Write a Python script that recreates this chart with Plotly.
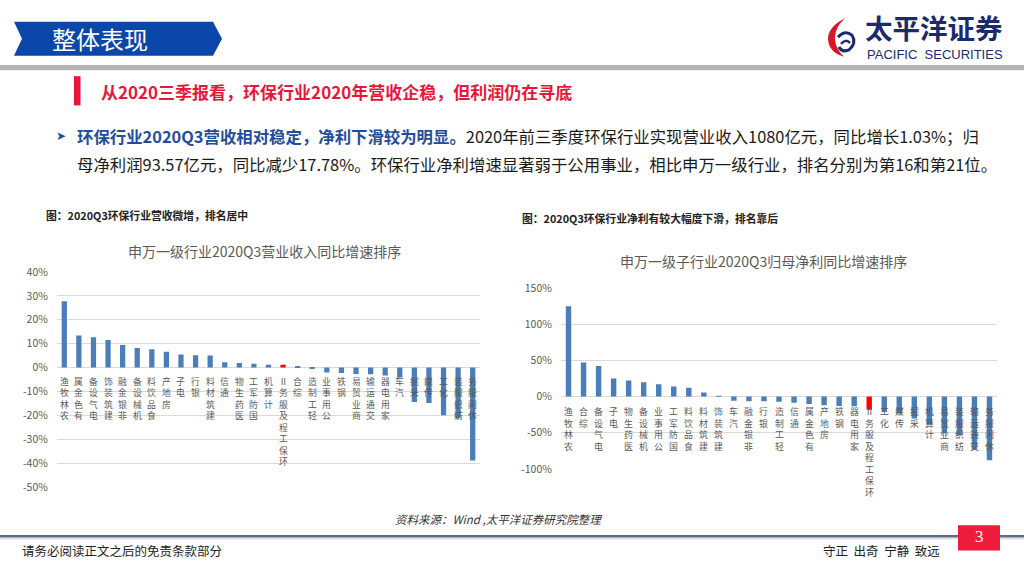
import plotly.graph_objects as go

# ---------------- data ----------------
rev_categories = ["农林牧渔", "有色金属", "电气设备", "建筑装饰", "非银金融", "机械设备", "食品饮料",
                  "房地产", "电子", "银行", "建筑材料", "通信", "医药生物", "国防军工", "计算机",
                  "环保工程及服务Ⅱ", "综合", "轻工制造", "公用事业", "钢铁", "商业贸易", "交通运输",
                  "家用电器", "汽车", "采掘", "传媒", "化工", "纺织服装", "休闲服务"]
rev_values = [27.7, 13.4, 12.7, 11.5, 9.5, 8.2, 7.7, 6.6, 5.5, 5.2, 5.1, 2.2, 1.9, 1.6, 1.2,
              1.2, 0.5, -0.3, -2.0, -2.3, -2.7, -2.8, -3.3, -4.1, -14.4, -14.8, -19.9, -21.2, -38.8]

np_categories = ["农林牧渔", "综合", "电气设备", "电子", "医药生物", "机械设备", "公用事业",
                 "国防军工", "食品饮料", "建筑材料", "建筑装饰", "汽车", "非银金融", "银行", "轻工制造",
                 "通信", "有色金属", "房地产", "钢铁", "家用电器", "环保工程及服务Ⅱ", "化工", "传媒",
                 "采掘", "计算机", "商业贸易", "纺织服装", "交通运输", "休闲服务"]
np_values = [124.7, 47.0, 42.2, 24.7, 22.0, 19.7, 17.0, 13.9, 12.1, 5.4, 0.3, -5.8, -6.4, -6.7,
             -7.2, -8.5, -10.3, -12.1, -13.0, -13.5, -18.4, -21.5, -23.3, -30.5, -38.6, -50.7,
             -53.8, -73.5, -87.9]

rev_ticks = [40, 30, 20, 10, 0, -10, -20, -30, -40, -50]
np_ticks = [150, 100, 50, 0, -50, -100]

highlight = "环保工程及服务Ⅱ"

# ---------------- style ----------------
W, H = 1024, 576
FONT = "Noto Sans CJK SC"
BAR = "#4A7EBB"
RED = "#FF0000"
GRID = "#D9D9D9"
AXTXT = "#595959"


def px(x):
    return x / W


def py(y):
    return 1 - y / H


fig = go.Figure()

fig.add_trace(go.Bar(
    x=rev_categories, y=rev_values, xaxis="x", yaxis="y", width=0.36,
    marker=dict(color=[RED if c == highlight else BAR for c in rev_categories], line=dict(width=0)),
    showlegend=False, hoverinfo="skip"))
fig.add_trace(go.Bar(
    x=np_categories, y=np_values, xaxis="x2", yaxis="y2", width=0.36,
    marker=dict(color=[RED if c == highlight else BAR for c in np_categories], line=dict(width=0)),
    showlegend=False, hoverinfo="skip"))

axis_common_x = dict(type="category", showticklabels=False, showgrid=False, zeroline=False,
                     showline=False, fixedrange=True)
axis_common_y = dict(showgrid=True, gridcolor=GRID, gridwidth=1, zeroline=False, showline=False,
                     tickfont=dict(family=FONT, size=10.5, color=AXTXT), tickmode="array",
                     ticks="outside", ticklen=6, tickcolor="rgba(0,0,0,0)", fixedrange=True)

fig.update_layout(
    width=W, height=H, margin=dict(l=0, r=0, t=0, b=0),
    paper_bgcolor="white", plot_bgcolor="white", bargap=0.6,
    font=dict(family=FONT),
    xaxis=dict(domain=[px(57), px(480)], categoryorder="array", categoryarray=rev_categories,
               anchor="y", **axis_common_x),
    yaxis=dict(domain=[py(492), py(271)], range=[-50, 40], tickvals=rev_ticks,
               ticktext=[f"{v}%" for v in rev_ticks], anchor="x", **axis_common_y),
    xaxis2=dict(domain=[px(561), px(997)], categoryorder="array", categoryarray=np_categories,
                anchor="y2", **axis_common_x),
    yaxis2=dict(domain=[py(473.3), py(287.3)], range=[-100, 150], tickvals=np_ticks,
                ticktext=[f"{v}%" for v in np_ticks], anchor="x2", **axis_common_y),
)

ann = []


def stacked_labels(cats, xref, yref, shift, size):
    # vertical text read bottom-to-top with upright characters
    for c in cats:
        ann.append(dict(x=c, y=0, xref=xref, yref=yref, text="<br>".join(list(c)[::-1]),
                        showarrow=False, yshift=shift, xanchor="center", yanchor="top",
                        borderpad=0, font=dict(family=FONT, size=size, color=AXTXT)))


stacked_labels(rev_categories, "x", "y", -6, 8.8)
stacked_labels(np_categories, "x2", "y2", -7.5, 8.9)

# chart titles
ann.append(dict(x=px(264), y=py(249), xref="paper", yref="paper", showarrow=False,
                text="申万一级行业2020Q3营业收入同比增速排序", xanchor="center", yanchor="middle",
                font=dict(family=FONT, size=14, color=AXTXT)))
ann.append(dict(x=px(763), y=py(260), xref="paper", yref="paper", showarrow=False,
                text="申万一级子行业2020Q3归母净利同比增速排序", xanchor="center", yanchor="middle",
                font=dict(family=FONT, size=14, color=AXTXT)))

# captions
ann.append(dict(x=px(44), y=py(213), xref="paper", yref="paper", showarrow=False,
                text="<b>图：2020Q3环保行业营收微增，排名居中</b>", xanchor="left", yanchor="middle",
                font=dict(family=FONT, size=10.8, color="#222222")))
ann.append(dict(x=px(520), y=py(216), xref="paper", yref="paper", showarrow=False,
                text="<b>图：2020Q3环保行业净利有较大幅度下滑，排名靠后</b>", xanchor="left",
                yanchor="middle", font=dict(family=FONT, size=10.8, color="#222222")))

# header
ann.append(dict(x=px(50), y=py(31), xref="paper", yref="paper", showarrow=False,
                text="整体表现", xanchor="left", yanchor="middle",
                font=dict(family=FONT, size=24, color="white")))
ann.append(dict(x=px(99), y=py(86), xref="paper", yref="paper", showarrow=False,
                text="<b>从2020三季报看，环保行业2020年营收企稳，但利润仍在寻底</b>",
                xanchor="left", yanchor="middle", font=dict(family=FONT, size=17, color="#E8173A")))

# bullet paragraph
ann.append(dict(x=px(54), y=py(131), xref="paper", yref="paper", showarrow=False,
                text="➤", xanchor="left", yanchor="middle",
                font=dict(family="DejaVu Sans", size=12, color="#1F4E9A")))
ann.append(dict(x=px(75), y=py(131), xref="paper", yref="paper", showarrow=False,
                text="<span style='color:#1F4E9A'><b>环保行业2020Q3营收相对稳定，净利下滑较为明显。</b></span>"
                     "2020年前三季度环保行业实现营业收入1080亿元，同比增长1.03%；归",
                xanchor="left", yanchor="middle", font=dict(family=FONT, size=16.4, color="#1A1A1A")))
ann.append(dict(x=px(75), y=py(160), xref="paper", yref="paper", showarrow=False,
                text="母净利润93.57亿元，同比减少17.78%。环保行业净利增速显著弱于公用事业，相比申万一级行业，排名分别为第16和第21位。",
                xanchor="left", yanchor="middle", font=dict(family=FONT, size=16.4, color="#1A1A1A")))

# logo text
ann.append(dict(x=px(864), y=py(20), xref="paper", yref="paper", showarrow=False,
                text="<b>太平洋证券</b>", xanchor="left", yanchor="middle", borderpad=0,
                font=dict(family=FONT, size=27.5, color="#1B2A6B")))
ann.append(dict(x=px(866), y=py(47.5), xref="paper", yref="paper", showarrow=False,
                text="PACIFIC  SECURITIES", xanchor="left", yanchor="middle", borderpad=0,
                font=dict(family="Liberation Sans", size=13, color="#1B2A6B")))

# source and footer
ann.append(dict(x=px(498), y=py(525), xref="paper", yref="paper", showarrow=False,
                text="<i>资料来源：Wind ,太平洋证券研究院整理</i>", xanchor="center", yanchor="middle",
                font=dict(family=FONT, size=11.5, color="#333333")))
ann.append(dict(x=px(20), y=py(557), xref="paper", yref="paper", showarrow=False,
                text="请务必阅读正文之后的免责条款部分", xanchor="left", yanchor="middle",
                font=dict(family=FONT, size=12.5, color="#222222")))
ann.append(dict(x=px(942), y=py(557), xref="paper", yref="paper", showarrow=False,
                text="守正  出奇  宁静  致远", xanchor="right", yanchor="middle",
                font=dict(family=FONT, size=12.5, color="#222222")))
ann.append(dict(x=px(979), y=py(543), xref="paper", yref="paper", showarrow=False,
                text="3", xanchor="center", yanchor="middle",
                font=dict(family="Liberation Serif", size=17, color="white")))

shapes = []
# header banner
shapes.append(dict(type="path", xref="paper", yref="paper",
                   path=f"M {px(14)},{py(14)} L {px(213)},{py(14)} L {px(222)},{py(31.5)} "
                        f"L {px(213)},{py(49)} L {px(14)},{py(49)} L {px(22)},{py(31.5)} Z",
                   fillcolor="#0B47A8", line=dict(width=0), layer="below"))
# gray header rule
shapes.append(dict(type="rect", xref="paper", yref="paper", x0=0, x1=1, y0=py(64), y1=py(58.5),
                   fillcolor="#B3B3B3", line=dict(width=0), layer="below"))
# red marker bar
shapes.append(dict(type="rect", xref="paper", yref="paper", x0=px(74), x1=px(80.5), y0=py(100),
                   y1=py(70), fillcolor="#E8173A", line=dict(width=0), layer="below"))
# logo: red crescent
shapes.append(dict(type="path", xref="paper", yref="paper",
                   path=f"M {px(846)},{py(10)} Q {px(822)},{py(22)} {px(830)},{py(40)} "
                        f"Q {px(835)},{py(48)} {px(844)},{py(50)} Q {px(832)},{py(38)} {px(836)},{py(24)} "
                        f"Q {px(839)},{py(15)} {px(846)},{py(10)} Z",
                   fillcolor="#D7182A", line=dict(width=0)))
# logo: blue swirl
shapes.append(dict(type="path", xref="paper", yref="paper",
                   path=f"M {px(838)},{py(30)} Q {px(845)},{py(22)} {px(852)},{py(28)} "
                        f"Q {px(857)},{py(36)} {px(849)},{py(43)} Q {px(842)},{py(46)} {px(839)},{py(40)}",
                   line=dict(color="#1B2A6B", width=3)))
shapes.append(dict(type="path", xref="paper", yref="paper",
                   path=f"M {px(841)},{py(37)} Q {px(846)},{py(31)} {px(850)},{py(36)}",
                   line=dict(color="#1B2A6B", width=2.5)))
# footer rule
shapes.append(dict(type="line", xref="paper", yref="paper", x0=0, x1=1, y0=py(542.5), y1=py(542.5),
                   line=dict(color="#5E6C88", width=2.5)))
shapes.append(dict(type="line", xref="paper", yref="paper", x0=0, x1=1, y0=py(545), y1=py(545),
                   line=dict(color="#C9CFDA", width=1)))
# page number box
shapes.append(dict(type="rect", xref="paper", yref="paper", x0=px(958), x1=px(1000), y0=py(557),
                   y1=py(531), fillcolor="#EE1B3B", line=dict(width=0)))

fig.update_layout(annotations=ann, shapes=shapes)

fig.write_html("out.html", config={"displayModeBar": False},
               post_script="document.body.style.margin='0px';")
